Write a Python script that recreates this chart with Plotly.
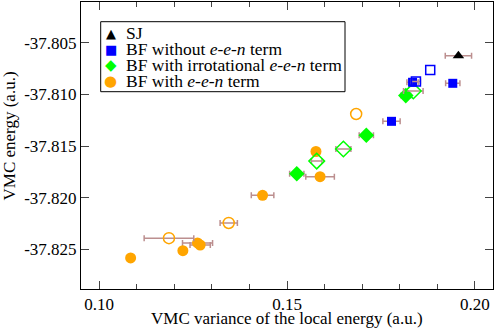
import plotly.graph_objects as go

# SJ
sj_x = [0.1956]
sj_y = [-37.80626]
sj_err = [0.0035]

# BF without e-e-n term
bf0_fill_x = [0.1834, 0.1941, 0.1778]
bf0_fill_y = [-37.80883, -37.80893, -37.81261]
bf0_fill_err = [0.0015, 0.0019, 0.0023]
bf0_open_x = [0.1881, 0.1843]
bf0_open_y = [-37.80764, -37.80875]
bf0_open_err = [0.0, 0.0012]

# BF with irrotational e-e-n term
bfi_fill_x = [0.1816, 0.1711, 0.1526]
bfi_fill_y = [-37.81012, -37.81396, -37.81769]
bfi_fill_err = [0.0013, 0.0019, 0.0019]
bfi_open_x = [0.1836, 0.1650, 0.1579]
bfi_open_y = [-37.80967, -37.81529, -37.81646]
bfi_open_err = [0.0026, 0.0020, 0.0014]

# BF with e-e-n term
bfe_fill_x = [0.1577, 0.1588, 0.1435, 0.1262, 0.1269, 0.1223, 0.1084]
bfe_fill_y = [-37.81553, -37.81797, -37.81977, -37.82438, -37.82458, -37.82513, -37.82583]
bfe_fill_err = [0.0, 0.0038, 0.0030, 0.0040, 0.0027, 0.0, 0.0]
bfe_open_x = [0.1684, 0.1345, 0.1186]
bfe_open_y = [-37.81190, -37.82245, -37.82392]
bfe_open_err = [0.0, 0.0023, 0.0066]

legend_labels = ["SJ",
                 "BF without <i>e</i>-<i>e</i>-<i>n</i> term",
                 "BF with irrotational <i>e</i>-<i>e</i>-<i>n</i> term",
                 "BF with <i>e</i>-<i>e</i>-<i>n</i> term"]

x_tick_vals = [0.10, 0.15, 0.20]
x_tick_text = ["0.10", "0.15", "0.20"]
y_tick_vals = [-37.825, -37.820, -37.815, -37.810, -37.805]
y_tick_text = ["-37.825", "-37.820", "-37.815", "-37.810", "-37.805"]

ERRC = "#bc8f8f"
FONT = "Liberation Serif, Times New Roman, DejaVu Serif, serif"

fig = go.Figure()

def add(x, y, e, symbol, color, size, filled):
    with_e = [i for i in range(len(x)) if e[i] > 0]
    no_e = [i for i in range(len(x)) if e[i] <= 0]
    marker = dict(symbol=symbol if filled else symbol + "-open",
                  color=color, size=size,
                  line=dict(color=color, width=0 if filled else 1.5))
    if with_e:
        fig.add_trace(go.Scatter(
            x=[x[i] for i in with_e], y=[y[i] for i in with_e], mode="markers",
            showlegend=False, marker=marker,
            error_x=dict(type="data", array=[e[i] for i in with_e], color=ERRC,
                         thickness=1.5, width=3, visible=True)))
    if no_e:
        fig.add_trace(go.Scatter(
            x=[x[i] for i in no_e], y=[y[i] for i in no_e], mode="markers",
            showlegend=False, marker=marker))

add(bfe_fill_x, bfe_fill_y, bfe_fill_err, "circle", "#ffa500", 11, True)
add(bfe_open_x, bfe_open_y, bfe_open_err, "circle", "#ffa500", 11, False)
add(bfi_fill_x, bfi_fill_y, bfi_fill_err, "diamond", "#00ff00", 12, True)
add(bfi_open_x, bfi_open_y, bfi_open_err, "diamond", "#00ff00", 12, False)
add(bf0_fill_x, bf0_fill_y, bf0_fill_err, "square", "#0000ff", 9, True)
add(bf0_open_x, bf0_open_y, bf0_open_err, "square", "#0000ff", 9, False)
add(sj_x, sj_y, sj_err, "triangle-up", "#000000", 10, True)

# manual legend box (positions in paper coordinates)
L, R, T, B = 81, 493, 2, 289
def px(xp): return (xp - L) / (R - L)
def py(yp): return (B - yp) / (B - T)

shapes = [dict(type="rect", xref="paper", yref="paper",
               x0=px(100.7), x1=px(345), y0=py(91.7), y1=py(21.7),
               line=dict(color="black", width=1), fillcolor="white", layer="above")]
annotations = []
legend_syms = [("▲", "#000000", 13), ("■", "#0000ff", 13), ("◆", "#00ff00", 15), ("●", "#ffa500", 15)]
rows = [33.3, 49.3, 65.0, 81.0]
for (sym, col, sz), lab, r in zip(legend_syms, legend_labels, rows):
    annotations.append(dict(xref="paper", yref="paper", x=px(110.5), y=py(r),
                            text=sym, showarrow=False, xanchor="center", yanchor="middle",
                            font=dict(family="DejaVu Sans", size=sz, color=col)))
    annotations.append(dict(xref="paper", yref="paper", x=px(124), y=py(r),
                            text=lab, showarrow=False, xanchor="left", yanchor="middle",
                            font=dict(family=FONT, size=17.5, color="black")))

# axis titles
annotations.append(dict(xref="paper", yref="paper", x=px(286.5), y=py(318),
                        text="VMC variance of the local energy (a.u.)", showarrow=False,
                        xanchor="center", yanchor="middle",
                        font=dict(family=FONT, size=17, color="black")))
annotations.append(dict(xref="paper", yref="paper", x=px(9), y=py(136.5),
                        text="VMC energy (a.u.)", showarrow=False, textangle=-90,
                        xanchor="center", yanchor="middle",
                        font=dict(family=FONT, size=17, color="black")))

fig.update_layout(
    width=495, height=329,
    margin=dict(l=81, r=2, t=2, b=40, autoexpand=False),
    paper_bgcolor="white", plot_bgcolor="white",
    font=dict(family=FONT, size=17, color="black"),
    showlegend=False,
    shapes=shapes, annotations=annotations,
    xaxis=dict(range=[0.0952, 0.2048], tickvals=x_tick_vals, ticktext=x_tick_text,
               ticks="inside", ticklen=8, tickwidth=1, tickcolor="#444",
               minor=dict(dtick=0.01, tick0=0.10, ticks="inside", ticklen=5, tickcolor="#444"),
               showline=True, linecolor="black", linewidth=1, mirror="ticks",
               showgrid=False, zeroline=False, automargin=False,
               tickfont=dict(family=FONT, size=17)),
    yaxis=dict(range=[-37.82884, -37.80106], tickvals=y_tick_vals, ticktext=y_tick_text,
               ticks="inside", ticklen=8, tickwidth=1, tickcolor="#444",
               showline=True, linecolor="black", linewidth=1, mirror="ticks",
               showgrid=False, zeroline=False, automargin=False,
               tickfont=dict(family=FONT, size=17)),
)

fig.write_html("out.html", config={"displayModeBar": False},
               post_script="document.body.style.margin='0';document.body.style.padding='0';")
